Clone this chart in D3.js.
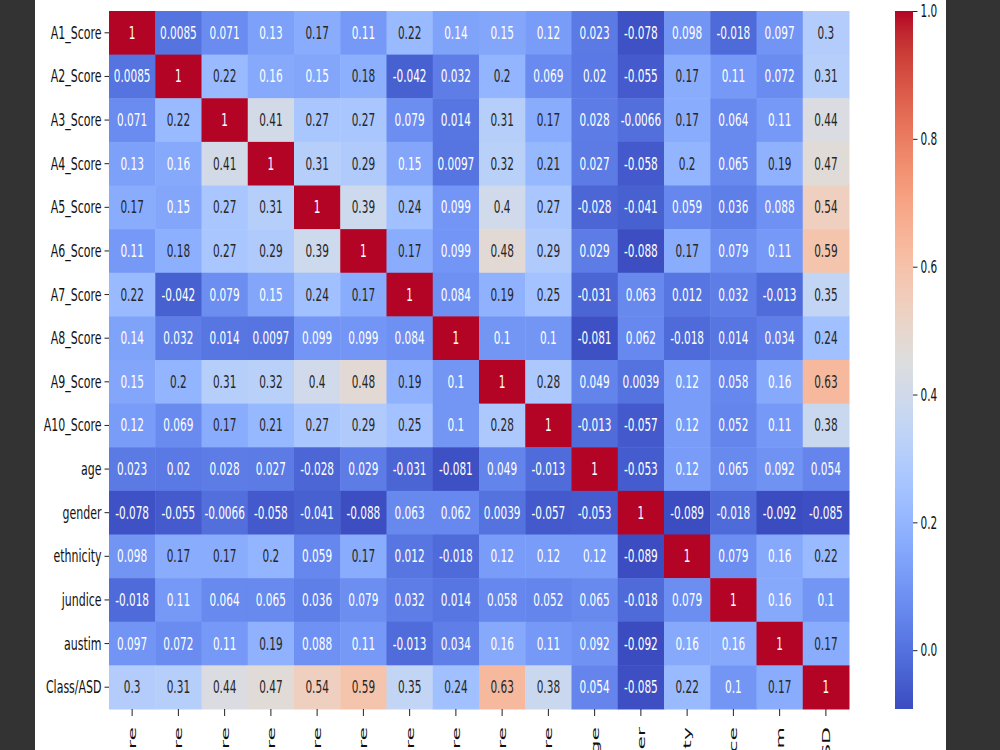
<!DOCTYPE html>
<html>
<head>
<meta charset="utf-8">
<script src="https://cdn.jsdelivr.net/npm/d3@7"></script>
<style>
  html, body { margin: 0; padding: 0; background: #333; }
  svg { display: block; }
</style>
</head>
<body>
<div id="heatFrame"></div>
<script>
const labels = ['A1_Score', 'A2_Score', 'A3_Score', 'A4_Score', 'A5_Score', 'A6_Score', 'A7_Score',
  'A8_Score', 'A9_Score', 'A10_Score', 'age', 'gender', 'ethnicity', 'jundice', 'austim', 'Class/ASD']

// correlation rows, same order as labels
const corr = [
  [1, 0.0085, 0.071, 0.13, 0.17, 0.11, 0.22, 0.14, 0.15, 0.12, 0.023, -0.078, 0.098, -0.018, 0.097, 0.3],
  [0.0085, 1, 0.22, 0.16, 0.15, 0.18, -0.042, 0.032, 0.2, 0.069, 0.02, -0.055, 0.17, 0.11, 0.072, 0.31],
  [0.071, 0.22, 1, 0.41, 0.27, 0.27, 0.079, 0.014, 0.31, 0.17, 0.028, -0.0066, 0.17, 0.064, 0.11, 0.44],
  [0.13, 0.16, 0.41, 1, 0.31, 0.29, 0.15, 0.0097, 0.32, 0.21, 0.027, -0.058, 0.2, 0.065, 0.19, 0.47],
  [0.17, 0.15, 0.27, 0.31, 1, 0.39, 0.24, 0.099, 0.4, 0.27, -0.028, -0.041, 0.059, 0.036, 0.088, 0.54],
  [0.11, 0.18, 0.27, 0.29, 0.39, 1, 0.17, 0.099, 0.48, 0.29, 0.029, -0.088, 0.17, 0.079, 0.11, 0.59],
  [0.22, -0.042, 0.079, 0.15, 0.24, 0.17, 1, 0.084, 0.19, 0.25, -0.031, 0.063, 0.012, 0.032, -0.013, 0.35],
  [0.14, 0.032, 0.014, 0.0097, 0.099, 0.099, 0.084, 1, 0.1, 0.1, -0.081, 0.062, -0.018, 0.014, 0.034, 0.24],
  [0.15, 0.2, 0.31, 0.32, 0.4, 0.48, 0.19, 0.1, 1, 0.28, 0.049, 0.0039, 0.12, 0.058, 0.16, 0.63],
  [0.12, 0.069, 0.17, 0.21, 0.27, 0.29, 0.25, 0.1, 0.28, 1, -0.013, -0.057, 0.12, 0.052, 0.11, 0.38],
  [0.023, 0.02, 0.028, 0.027, -0.028, 0.029, -0.031, -0.081, 0.049, -0.013, 1, -0.053, 0.12, 0.065, 0.092, 0.054],
  [-0.078, -0.055, -0.0066, -0.058, -0.041, -0.088, 0.063, 0.062, 0.0039, -0.057, -0.053, 1, -0.089, -0.018, -0.092, -0.085],
  [0.098, 0.17, 0.17, 0.2, 0.059, 0.17, 0.012, -0.018, 0.12, 0.12, 0.12, -0.089, 1, 0.079, 0.16, 0.22],
  [-0.018, 0.11, 0.064, 0.065, 0.036, 0.079, 0.032, 0.014, 0.058, 0.052, 0.065, -0.018, 0.079, 1, 0.16, 0.1],
  [0.097, 0.072, 0.11, 0.19, 0.088, 0.11, -0.013, 0.034, 0.16, 0.11, 0.092, -0.092, 0.16, 0.16, 1, 0.17],
  [0.3, 0.31, 0.44, 0.47, 0.54, 0.59, 0.35, 0.24, 0.63, 0.38, 0.054, -0.085, 0.22, 0.1, 0.17, 1]
]

const cbarTicks = [0, 0.2, 0.4, 0.6, 0.8, 1.0]

// matplotlib coolwarm (Moreland) control points
const coolwarmStops = ['#3b4cc0', '#445acc', '#4d68d7', '#5775e1', '#6282ea', '#6c8ef1', '#779af7', '#82a5fb',
  '#8db0fe', '#98b9ff', '#a3c2ff', '#aec9fd', '#b8d0f9', '#c2d5f4', '#ccd9ee', '#d5dbe6', '#dddddd',
  '#e5d8d1', '#ecd3c5', '#f1ccb9', '#f5c4ad', '#f7bba0', '#f7b194', '#f7a687', '#f49a7b', '#f18d6f',
  '#ec7f63', '#e57058', '#de604d', '#d55042', '#cb3e38', '#c0282f', '#b40426']

const W = 1000
const H = 750
const FONT = 'DejaVu Sans'
const STRETCH = 1.6
const heat = { left: 109, right: 849, top: 11, bottom: 709 }
const cbar = { left: 895, right: 913 }

const svg = d3.select('#heatFrame').append('svg')
  .attr('width', W)
  .attr('height', H)

svg.append('rect')
  .attr('x', 0).attr('y', 0).attr('width', W).attr('height', H)
  .style('fill', '#333')
svg.append('rect')
  .attr('x', 35).attr('y', 0).attr('width', 911).attr('height', H)
  .style('fill', '#fff')

const vmin = d3.min(corr.flat())
const vmax = d3.max(corr.flat())
const color = d3.scaleSequential(d3.piecewise(d3.interpolateRgb, coolwarmStops)).domain([vmin, vmax])

const xScale = d3.scaleBand().domain(labels).range([heat.left, heat.right])
const yScale = d3.scaleBand().domain(labels).range([heat.top, heat.bottom])

let luminance = function (c) {
  let rgb = d3.rgb(c)
  let lin = [rgb.r, rgb.g, rgb.b].map(v => {
    v = v / 255
    return v <= 0.03928 ? v / 12.92 : Math.pow((v + 0.055) / 1.055, 2.4)
  })
  return 0.2126 * lin[0] + 0.7152 * lin[1] + 0.0722 * lin[2]
}

let cells = []
corr.forEach((row, i) => {
  row.forEach((v, j) => {
    cells.push({ row: labels[i], col: labels[j], value: v })
  })
})

let g = svg.append('g')
g.selectAll('.cell')
  .data(cells)
  .enter()
  .append('rect')
  .attr('class', 'cell')
  .attr('x', d => xScale(d.col))
  .attr('y', d => yScale(d.row))
  .attr('width', xScale.bandwidth() + 0.5)
  .attr('height', yScale.bandwidth() + 0.5)
  .style('fill', d => color(d.value))

g.selectAll('.annot')
  .data(cells)
  .enter()
  .append('text')
  .attr('class', 'annot')
  .attr('transform', d => `translate(${xScale(d.col) + xScale.bandwidth() / 2},${yScale(d.row) + yScale.bandwidth() / 2}) scale(1,${STRETCH})`)
  .attr('dy', '0.36em')
  .attr('text-anchor', 'middle')
  .style('font-family', FONT)
  .style('font-size', '10.5px')
  .style('fill', d => luminance(color(d.value)) > 0.408 ? '#262626' : '#fff')
  .text(d => String(d.value))

// y axis
let yaxis = svg.append('g')
  .attr('transform', `translate(${heat.left},0)`)
  .call(d3.axisLeft(yScale).tickSize(4.5).tickPadding(3))
yaxis.select('.domain').remove()
yaxis.selectAll('line').style('stroke', '#222')
yaxis.selectAll('text')
  .attr('transform', `scale(1,${STRETCH})`)
  .attr('dy', '0.34em')
  .style('font-family', FONT)
  .style('font-size', '11px')
  .style('fill', '#111')

// x axis, labels rotated and running off the bottom of the page
let xaxis = svg.append('g')
  .attr('transform', `translate(0,${heat.bottom})`)
  .call(d3.axisBottom(xScale).tickSize(7))
xaxis.select('.domain').remove()
xaxis.selectAll('line').style('stroke', '#222')
xaxis.selectAll('text')
  .attr('x', 0)
  .attr('y', 0)
  .attr('dy', '0.36em')
  .attr('text-anchor', 'end')
  .attr('transform', 'translate(0,18) scale(1,2) rotate(-90)')
  .style('font-family', FONT)
  .style('font-size', '11px')
  .style('fill', '#111')

// colorbar
const cScale = d3.scaleLinear().domain([vmin, vmax]).range([heat.bottom, heat.top])
let defs = svg.append('defs')
let grad = defs.append('linearGradient')
  .attr('id', 'cbarGrad')
  .attr('x1', 0).attr('y1', 1).attr('x2', 0).attr('y2', 0)
d3.range(0, 1.0001, 0.02).forEach(t => {
  grad.append('stop')
    .attr('offset', t)
    .attr('stop-color', color(vmin + t * (vmax - vmin)))
})
svg.append('rect')
  .attr('x', cbar.left)
  .attr('y', heat.top)
  .attr('width', cbar.right - cbar.left)
  .attr('height', heat.bottom - heat.top)
  .style('fill', 'url(#cbarGrad)')

let caxis = svg.append('g')
  .attr('transform', `translate(${cbar.right},0)`)
  .call(d3.axisRight(cScale).tickValues(cbarTicks).tickFormat(d3.format('.1f')).tickSize(4.5).tickPadding(3))
caxis.select('.domain').remove()
caxis.selectAll('line').style('stroke', '#222')
caxis.selectAll('text')
  .attr('transform', `scale(1,${STRETCH})`)
  .attr('dy', '0.34em')
  .style('font-family', FONT)
  .style('font-size', '10.5px')
  .style('fill', '#111')
</script>
</body>
</html>
